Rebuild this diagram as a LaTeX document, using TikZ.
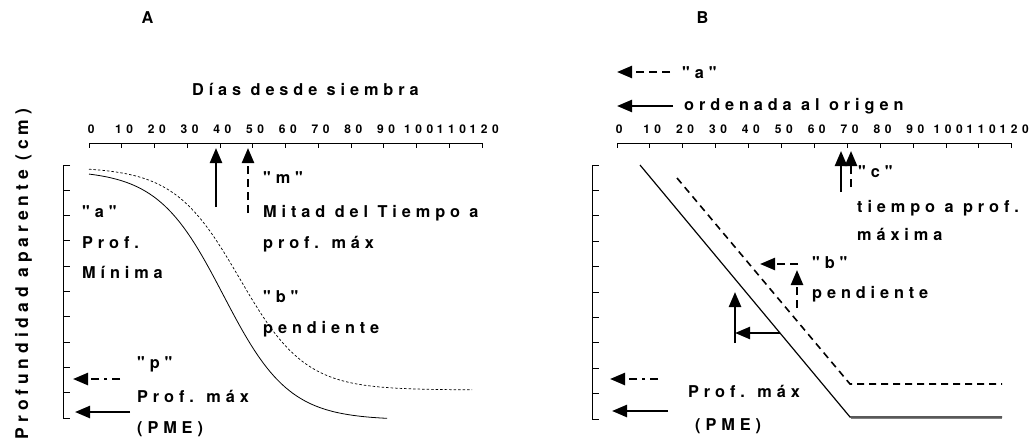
\documentclass[tikz,border=0pt]{standalone}
\usepackage{fontspec}
\newfontfamily\lblfam{texgyreheros}[Extension=.otf, UprightFont=*-bold,
	LetterSpace=30, Ligatures=TeXOff]
\newfontfamily\tickfam{texgyreheros}[Extension=.otf, UprightFont=*-bold,
	LetterSpace=38, Ligatures=TeXOff]
\newfontfamily\ylblfam{texgyreheros}[Extension=.otf, UprightFont=*-bold,
	LetterSpace=28, Ligatures=TeXOff]
\usetikzlibrary{arrows.meta}
\tikzset{%
  lbl/.style     = {font=\lblfam\fontsize{16.3}{18}\selectfont,%
                    anchor=base west, inner sep=0pt},%
  ttl/.style     = {lbl, anchor=base, xshift=2.4pt},%
  ticklbl/.style = {font=\tickfam\fontsize{12}{13}\selectfont,%
                    anchor=base, inner sep=0pt, xshift=2.3pt},%
  pointer/.style = {line width=2.4pt, -{Triangle[length=15pt,width=12pt]}},%
  dashptr/.style = {pointer, dash pattern=on 8pt off 5pt},%
  dotptr/.style  = {pointer, dash pattern=on 8pt off 5pt on 3pt off 5pt},%
  axis/.style    = {line width=0.9pt}%
}

\begin{document}
\begin{tikzpicture}[x=1pt,y=-1pt]
\useasboundingbox (0,0) rectangle (1033,440);
% panel A
\begin{scope}
	\node[ttl] (ttlA) at (145,23) {A};
	\node[ttl] (xlblA) at (303,95) {Días desde siembra};
	\node[font=\ylblfam\fontsize{17.5}{19}\selectfont, anchor=base,
		inner sep=0pt, rotate=90] (ylbl) at (28,274) {Profundidad aparente (cm)};
	\draw[axis] (89,143) -- (482,143);
	\foreach \t in {0,10,...,120} {
		\draw[axis] (89+3.275*\t,143) -- ++(0,5);
		\node[ticklbl] (ta\t) at (89+3.275*\t,133) {\t};
	}
	\draw[axis] (70,165) -- (63,165) -- (63,418) -- (70,418);
	\foreach \k in {1,...,9}
		\draw[axis] (63,165+25.3*\k) -- ++(7,0);
	% curves
	\draw[line width=0.8pt] plot[domain=0:91, samples=80]
		({89+3.275*\x}, {170+250/(1+exp(-0.1*(\x-41)))});
	\draw[line width=0.7pt, dash pattern=on 2.5pt off 2pt] plot[domain=0:117, samples=100]
		({89+3.275*\x}, {167+223/(1+exp(-0.1*(\x-46)))});
	% arrows
	\coordinate (mA) at (216,148);
	\coordinate (mB) at (248,148);
	\coordinate (pA) at (73,379);
	\coordinate (pB) at (75,412);
	\draw[pointer] (216,207) -- (mA);
	\draw[dashptr] (248,213) -- (mB);
	\draw[dotptr] (120,379) -- (pA);
	\draw[pointer] (130,412) -- (pB);
	% labels
	\node[lbl] (m)    at (263,183) {"m"};
	\node[lbl] (mit)  at (263,217) {Mitad del Tiempo a};
	\node[lbl] (pmx)  at (263,248) {prof. máx};
	\node[lbl] (a)    at (82,217)  {"a"};
	\node[lbl] (prf)  at (82,248)  {Prof.};
	\node[lbl] (min)  at (82,278)  {Mínima};
	\node[lbl] (b)    at (263,302) {"b"};
	\node[lbl] (pend) at (263,333) {pendiente};
	\node[lbl] (p)    at (137,368) {"p"};
	\node[lbl] (pmax) at (137,402) {Prof. máx};
	\node[lbl] (pme)  at (137,433) {(PME)};
\end{scope}
% panel B
\begin{scope}
	\node[ttl] (ttlB) at (700,23) {B};
	\draw[axis] (617,143) -- (1012,143);
	\foreach \t in {0,10,...,120} {
		\draw[axis] (617+3.29*\t,143) -- ++(0,5);
		\node[ticklbl] (tb\t) at (617+3.29*\t,133) {\t};
	}
	\draw[axis] (599,165) -- (592,165) -- (592,419) -- (599,419);
	\foreach \k in {1,...,9}
		\draw[axis] (592,165+25.4*\k) -- ++(7,0);
	% lines
	\draw[line width=1.2pt] (640,165) -- (850,417) -- (1002,417);
	\draw[gray, line width=1.2pt] (851,418.6) -- (1002,418.6);
	\draw[line width=1.6pt, dash pattern=on 7pt off 5pt] (677,178) -- (850,384) -- (1002,384);
	% arrows
	\coordinate (aA) at (617,72);
	\coordinate (aB) at (617,106);
	\coordinate (cA) at (841,151);
	\coordinate (cB) at (851,151);
	\coordinate (bA) at (760,264);
	\coordinate (bB) at (797,270);
	\coordinate (bC) at (735,333);
	\coordinate (bD) at (735,292);
	\coordinate (qA) at (610,379);
	\coordinate (qB) at (612,411);
	\draw[dashptr] (670,72) -- (aA);
	\draw[pointer] (673,106) -- (aB);
	\draw[pointer] (841,192) -- (cA);
	\draw[dashptr] (851,187) -- (cB);
	\draw[dashptr] (798,264) -- (bA);
	\draw[dashptr] (797,308) -- (bB);
	\draw[pointer] (780,333) -- (bC);
	\draw[pointer] (735,343) -- (bD);
	\draw[dotptr] (658,379) -- (qA);
	\draw[pointer] (668,411) -- (qB);
	% labels
	\node[lbl] (a2)    at (682,78)  {"a"};
	\node[lbl] (ord)   at (684,110) {ordenada al origen};
	\node[lbl] (c)     at (858,177) {"c"};
	\node[lbl] (tpo)   at (857,212) {tiempo a prof.};
	\node[lbl] (maxi)  at (857,240) {máxima};
	\node[lbl] (b2)    at (812,268) {"b"};
	\node[lbl] (pend2) at (812,298) {pendiente};
	\node[lbl] (pmax2) at (688,397) {Prof. máx};
	\node[lbl] (pme2)  at (695,430) {(PME)};
\end{scope}
\end{tikzpicture}
\end{document}
